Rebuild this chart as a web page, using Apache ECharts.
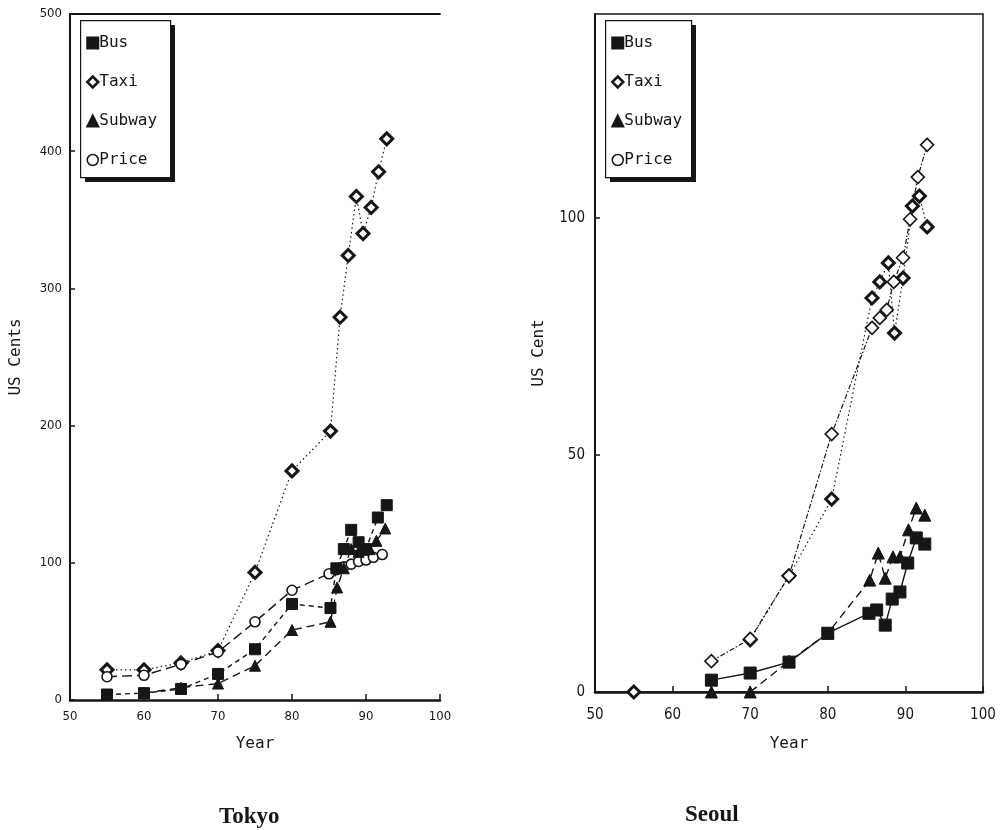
<!DOCTYPE html>
<html>
<head>
<meta charset="utf-8">
<script src="https://cdn.jsdelivr.net/npm/echarts@6/dist/echarts.min.js"></script>
<style>html,body{margin:0;padding:0;background:#fff}#c{width:1001px;height:830px}</style>
</head>
<body>
<div id="c"></div>
<script>
// ---- Data (year, US cents) ----
const seriesNames = ['Bus', 'Taxi', 'Subway', 'Price'];
const cityTitles = ['Tokyo', 'Seoul'];
const tokyoYTicks = [0, 100, 200, 300, 400, 500];
const seoulYTicks = [0, 50, 100];
const xTicks = [50, 60, 70, 80, 90, 100];

const tokyoBus = [[55,4],[60,5],[65,8],[70,19],[75,37],[80,70],[85.2,67],[86,96],[87,110],[88,124],[89,115],[90,110],[91.6,133],[92.8,142]];
const tokyoTaxi = [[55,22],[60,22],[65,27],[70,36],[75,93],[80,167],[85.2,196],[86.5,279],[87.6,324],[88.7,367],[89.6,340],[90.7,359],[91.7,385],[92.8,409]];
const tokyoSubway = [[60,5],[65,9],[70,12],[75,25],[80,51],[85.2,57],[86.1,82],[87,96],[88,110],[89,108],[90.5,110],[91.4,116],[92.6,125]];
const tokyoPrice = [[55,17],[60,18],[65,26],[70,35],[75,57],[80,80],[85,92],[86,95],[87,97],[88,99],[89,101],[90,102],[91,104],[92.2,106]];

const seoulBus = [[65,2.5],[70,4],[75,6.3],[80,12.4],[85.3,16.6],[86.3,17.3],[87.4,14.1],[88.3,19.6],[89.3,21.1],[90.3,27.2],[91.4,32.5],[92.5,31.2]];
const seoulTaxi = [[55,0],[62,'-'],[70,11],[75,24.5],[80.5,40.7],[85.7,83.1],[86.7,86.5],[87.8,90.5],[88.6,75.7],[89.7,87.3],[90.9,102.5],[91.8,104.6],[92.8,98.1]];
const seoulSubway = [[65,0],[70,0],[75,6.5],[80,12.4],[85.4,23.6],[86.5,29.3],[87.4,24],[88.4,28.5],[89.3,28.5],[90.4,34.2],[91.4,38.8],[92.5,37.3]];
const seoulPrice = [[65,6.5],[70,11.2],[75,24.5],[80.5,54.4],[85.7,76.8],[86.7,78.9],[87.6,80.6],[88.5,86.5],[89.7,91.6],[90.6,99.7],[91.6,108.6],[92.8,115.4]];

const INK = '#161616';
const sans = "'Liberation Sans Narrow','DejaVu Sans Condensed','Liberation Sans',sans-serif";
const mono = "'DejaVu Sans Mono','Liberation Mono',monospace";

function mk(name, data, gi, symbol, size, item, line) {
  return {
    name: name, type: 'line', xAxisIndex: gi, yAxisIndex: gi, data: data,
    symbol: symbol, symbolSize: size, itemStyle: item,
    lineStyle: Object.assign({ color: INK, width: 1.4 }, line),
    connectNulls: false, z: 3, animation: false
  };
}
const sq = { color: INK, borderColor: INK, borderWidth: 1 };
const dia = { color: '#fff', borderColor: INK, borderWidth: 3 };
const tri = { color: INK, borderColor: INK, borderWidth: 1 };
const openC = { color: '#fff', borderColor: INK, borderWidth: 1.6 };

function legendFor(left) {
  return {
    orient: 'vertical', left: left, top: 20, z: 10,
    padding: [15, 8, 12, 6], itemGap: 23, itemWidth: 11, itemHeight: 11,
    textStyle: { fontFamily: mono, fontSize: 16, color: INK, lineHeight: 16, padding: [0, 0, 0, -4] },
    selectedMode: false,
    data: [
      { name: 'Bus', icon: 'rect', itemStyle: { color: INK } },
      { name: 'Taxi', icon: 'diamond', itemStyle: { color: '#fff', borderColor: INK, borderWidth: 2.5 } },
      { name: 'Subway', icon: 'triangle', itemStyle: { color: INK } },
      { name: 'Price', icon: 'circle', itemStyle: { color: '#fff', borderColor: INK, borderWidth: 1.5 } }
    ]
  };
}
function legendBox(x, w) {
  return [
    { type: 'rect', left: x + 5, top: 25, z: 1, shape: { width: w, height: 157 }, style: { fill: INK } },
    { type: 'rect', left: x, top: 20, z: 2, shape: { width: w, height: 157 }, style: { fill: '#fff', stroke: INK, lineWidth: 1.2 } }
  ];
}

function xAx(gi, margin, fs) {
  return {
    type: 'value', gridIndex: gi, min: 50, max: 100, interval: 10,
    name: 'Year', nameLocation: 'middle', nameGap: gi === 0 ? 36 : 44,
    nameTextStyle: { fontFamily: mono, fontSize: 16, color: INK },
    axisLine: { show: true, lineStyle: { color: INK, width: 2.5 } },
    axisTick: { show: true, inside: true, length: 6, lineStyle: { color: INK, width: 1.5 } },
    axisLabel: { margin: margin, fontFamily: sans, fontSize: fs, color: INK },
    splitLine: { show: false }
  };
}

const option = {
  animation: false,
  backgroundColor: '#fff',
  title: [
    { text: cityTitles[0], left: 214, top: 801, textStyle: { fontFamily: "'Liberation Serif','DejaVu Serif',serif", fontWeight: 'bold', fontSize: 23, color: INK } },
    { text: cityTitles[1], left: 680, top: 799, textStyle: { fontFamily: "'Liberation Serif','DejaVu Serif',serif", fontWeight: 'bold', fontSize: 23, color: INK } }
  ],
  graphic: { elements: legendBox(80, 90).concat(legendBox(605, 86)) },
  legend: [legendFor(80), legendFor(605)],
  grid: [
    { left: 70, right: 561, top: 14, bottom: 130, show: false },
    { left: 595, right: 18, top: 14, bottom: 138, show: true, borderColor: INK, borderWidth: 1.5, backgroundColor: 'transparent' }
  ],
  xAxis: [
    xAx(0, 10, 13),
    xAx(1, 16, 15),
    { type: 'value', gridIndex: 0, position: 'top', min: 50, max: 100,
      axisLine: { show: true, lineStyle: { color: INK, width: 1.8 } },
      axisTick: { show: false }, axisLabel: { show: false }, splitLine: { show: false } }
  ],
  yAxis: [
    { type: 'value', gridIndex: 0, min: 0, max: 500, interval: 100,
      name: 'US Cents', nameLocation: 'middle', nameGap: 46, nameRotate: 90,
      nameTextStyle: { fontFamily: mono, fontSize: 16, color: INK },
      axisLine: { show: true, lineStyle: { color: INK, width: 2 } },
      axisTick: { show: true, inside: true, length: 5, lineStyle: { color: INK, width: 1.5 } },
      axisLabel: { margin: 8, fontFamily: sans, fontSize: 13, color: INK },
      splitLine: { show: false } },
    { type: 'value', gridIndex: 1, min: 0, max: 143, interval: 50,
      name: 'US Cent', nameLocation: 'middle', nameGap: 48, nameRotate: 90,
      nameTextStyle: { fontFamily: mono, fontSize: 16, color: INK },
      axisLine: { show: true, lineStyle: { color: INK, width: 2 } },
      axisTick: { show: true, inside: true, length: 5, lineStyle: { color: INK, width: 1.5 } },
      axisLabel: { margin: 10, fontFamily: sans, fontSize: 15, color: INK, showMaxLabel: false,
        formatter: function (v) { return seoulYTicks.indexOf(v) >= 0 ? String(v) : ''; } },
      splitLine: { show: false } }
  ],
  series: [
    mk('Taxi', tokyoTaxi, 0, 'diamond', 12, dia, { type: [1.5, 3], width: 1.2 }),
    mk('Price', tokyoPrice, 0, 'circle', 10, openC, { type: [10, 5] }),
    mk('Bus', tokyoBus, 0, 'rect', 11, sq, { type: [5, 4] }),
    mk('Subway', tokyoSubway, 0, 'triangle', 11, tri, { type: [8, 5] }),
    mk('Taxi', seoulTaxi, 1, 'diamond', 12, dia, { type: [1.5, 3], width: 1.2 }),
    mk('Price', seoulPrice, 1, 'diamond', 13, openC, { type: [5, 2, 1.5, 2], width: 1.2 }),
    mk('Bus', seoulBus, 1, 'rect', 12, sq, { type: 'solid' }),
    mk('Subway', seoulSubway, 1, 'triangle', 12, tri, { type: [8, 5] })
  ]
};
echarts.init(document.getElementById('c'), null, { renderer: 'canvas' }).setOption(option);
</script>
</body>
</html>
